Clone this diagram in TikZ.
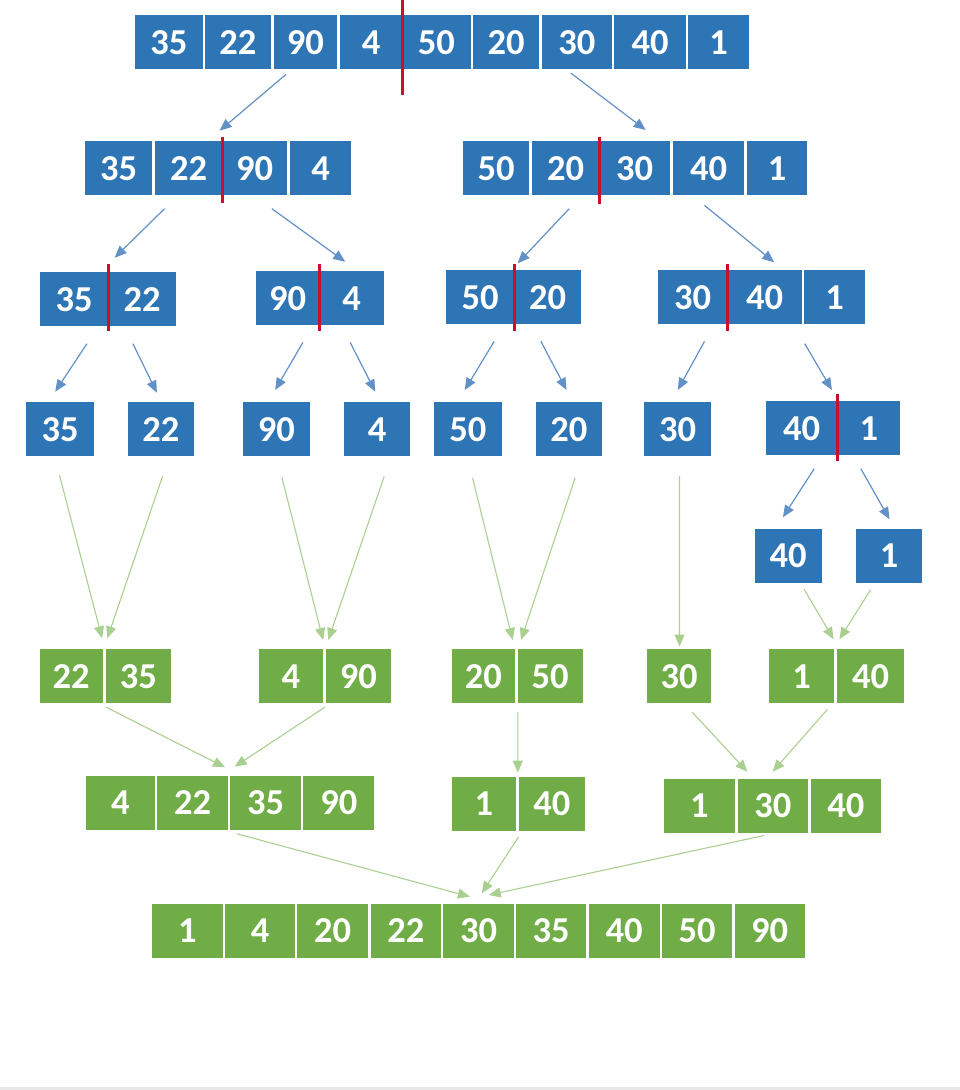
\documentclass[tikz,border=0pt]{standalone}
\usepackage{fontspec}
\setmainfont{Carlito}
\usetikzlibrary{arrows.meta,calc}
\definecolor{cblue}{RGB}{46,117,182}
\definecolor{cgreen}{RGB}{112,173,71}
\definecolor{ablue}{RGB}{98,145,200}
\definecolor{agreen}{RGB}{170,208,145}
\definecolor{cred}{RGB}{200,16,46}
\tikzset{
  cell/.style={anchor=north west, inner sep=0pt, minimum height=54pt, text=white,
    font=\bfseries\fontsize{36.5}{40}\selectfont},
  bcell/.style={cell, fill=cblue},
  gcell/.style={cell, fill=cgreen},
  barr/.style={draw=ablue, line width=1.2pt, -{Triangle[length=12pt,width=10pt]}},
  garr/.style={draw=agreen, line width=1.1pt, -{Triangle[length=12pt,width=10pt]}},
  splitline/.style={draw=cred, line width=3.3pt},
}
\newcommand\cellrow[4]{\foreach \cv/\cx/\cw [count=\cn] in {#4}{\node[#1,minimum width=\cw pt] (#2\cn) at (\cx,#3) {\cv};}}
\newcommand\arr[5]{\draw[#1] ($(#2)+(#3)$) -- ($(#4)+(#5)$);}
\newcommand\splitat[3]{\draw[splitline] ($(#1.north east)+(0,-#2)$) -- ($(#1.south east)+(0,#3)$);}
\begin{document}
\begin{tikzpicture}[x=1pt,y=-1pt]
\path[use as bounding box] (0,0) rectangle (960,1090);
\fill[gray!18] (0,1087) rectangle (960,1090);
% row 1
\cellrow{bcell}{a}{15}{35/135/67.5, 22/205/65.5, 90/273.4/63.5, 4/340/62, 50/402/68.3, 20/472.7/66.3, 30/541.8/69.5, 40/614.1/71.5, 1/688/60.7}
% row 2
\cellrow{bcell}{b}{141}{35/85/67, 22/155/67, 90/222/65, 4/290/61}
\cellrow{bcell}{c}{141}{50/463/66, 20/532/67, 30/599/71, 40/673/71, 1/747/60}
% row 3
\cellrow{bcell}{d}{272}{35/40/68, 22/108/68}
\cellrow{bcell}{e}{271}{90/256/63, 4/319/65}
\cellrow{bcell}{f}{270}{50/446/68, 20/514/67}
\cellrow{bcell}{g}{270}{30/658/69, 40/727/75, 1/804/61}
% row 4
\node[bcell, minimum width=67.7pt] (h1) at (26,402) {35};
\node[bcell, minimum width=66pt] (h2) at (127.7,402) {22};
\node[bcell, minimum width=67.7pt] (h3) at (242.3,402) {90};
\node[bcell, minimum width=66pt] (h4) at (344,402) {4};
\node[bcell, minimum width=67.5pt] (h5) at (433.8,402) {50};
\node[bcell, minimum width=65.8pt] (h6) at (535.7,402) {20};
\node[bcell, minimum width=67.2pt] (h7) at (643.8,402) {30};
\cellrow{bcell}{i}{401}{40/765.7/71.6, 1/837.3/62.7}
% row 5
\node[bcell, minimum width=67.4pt] (j1) at (754.3,528.3) {40};
\node[bcell, minimum width=66pt] (j2) at (856,528.3) {1};
% row 6
\cellrow{gcell}{k}{649}{22/39.3/63.2, 35/105.5/65.2}
\cellrow{gcell}{l}{649}{4/259/63.5, 90/325.5/65.2}
\cellrow{gcell}{m}{649}{20/451.7/62.8, 50/517.5/65}
\node[gcell, minimum width=64pt] (n) at (647,649) {30};
\cellrow{gcell}{o}{649}{1/768.8/65.3, 40/837.1/66.4}
% row 7
\cellrow{gcell}{q}{775.7}{4/85.7/69.1, 22/157/70.6, 35/229.8/71.2, 90/303.2/70.7}
\cellrow{gcell}{r}{776.7}{1/451.5/64.4, 40/518.9/65.5}
\cellrow{gcell}{s}{778.7}{1/663.6/71.3, 30/737.6/70.1, 40/810.4/70.6}
% row 8
\cellrow{gcell}{t}{903.7}{1/152/70.3, 4/225/69.6, 20/296.7/71.3, 22/370.7/70.1, 30/443/70.7, 35/515.8/70.2, 40/588.6/70.8, 50/662/69.7, 90/734.3/70.2}
% split lines
\splitat{a4}{15}{26}
\splitat{b2}{4}{8}
\splitat{c2}{4}{9}
\splitat{d1}{8}{5}
\splitat{e1}{7}{6}
\splitat{f1}{6}{7}
\splitat{g1}{6}{7}
\splitat{i1}{7}{6}
% blue arrows
\arr{barr}{a3.south}{-19.3,5}{b2.north east}{-2.8,-10.3}
\arr{barr}{a7.south}{-5.9,3.7}{c3.north}{11,-11}
\arr{barr}{b2.south}{-24.2,13.3}{d1.north east}{6.3,-14.3}
\arr{barr}{b3.south}{17.2,13.3}{e2.north}{-6.5,-9.3}
\arr{barr}{c2.south}{3.5,13.3}{f1.north east}{3.3,-6.7}
\arr{barr}{c4.south}{-4.2,10}{g2.north}{9.5,-7.7}
\arr{barr}{d1.south}{12.7,17.3}{h1.north}{-4.85,-10.3}
\arr{barr}{d2.south}{-9.3,17.3}{h2.north}{-4,-9.3}
\arr{barr}{e1.south}{15.2,17}{h3.north}{-1.15,-12}
\arr{barr}{e2.south}{-1.5,17}{h4.north}{-2,-10.3}
\arr{barr}{f1.south}{14,17}{h5.north}{-3,-12}
\arr{barr}{f2.south}{-6.8,17}{h6.north}{-2.3,-12}
\arr{barr}{g1.south}{11.8,17}{h7.north}{0.2,-12}
\arr{barr}{g2.south east}{2.3,19.3}{i1.north east}{-5.8,-11}
\arr{barr}{i1.south}{12.5,13.3}{j1.north}{-5.3,-11}
\arr{barr}{i2.south}{-8,13.3}{j2.north}{0.3,-9}
% green arrows
\arr{garr}{h1.south}{-0.5,19}{k1.north east}{-0.8,-10.7}
\arr{garr}{h2.south}{1.6,20}{k2.north west}{1.8,-10.7}
\arr{garr}{h3.south}{5.5,20.7}{l1.north east}{0.2,-9}
\arr{garr}{h4.south}{7,20}{l2.north west}{2.8,-9}
\arr{garr}{h5.south}{4.75,21.3}{m1.north east}{-2.2,-9}
\arr{garr}{h6.south}{6.4,21.3}{m2.north west}{3.5,-9}
\arr{garr}{h7.south}{1.9,19.7}{n.north}{0.3,-2.5}
\arr{garr}{j1.south}{16,6.7}{o1.north east}{-0.9,-9.7}
\arr{garr}{j2.south}{-18.6,7}{o2.north west}{2.3,-9.7}
\arr{garr}{k1.south east}{3,3.7}{q3.north west}{-4.8,-8.4}
\arr{garr}{l1.south east}{2.1,3.7}{q3.north west}{4.8,-9}
\arr{garr}{m1.south east}{2.9,8.7}{r1.north east}{1.5,-4}
\arr{garr}{n.south}{13,8.7}{s2.north}{-25.45,-7}
\arr{garr}{o1.south east}{-7.1,6}{s2.north}{-0.25,-7}
\arr{garr}{q3.south west}{6.9,3.6}{t5.north}{-8.65,-7}
\arr{garr}{r1.south east}{2.1,6}{t5.north}{3.15,-10.4}
\arr{garr}{s2.south}{-8.35,2.3}{t5.north}{10.15,-8.7}
\end{tikzpicture}
\end{document}
